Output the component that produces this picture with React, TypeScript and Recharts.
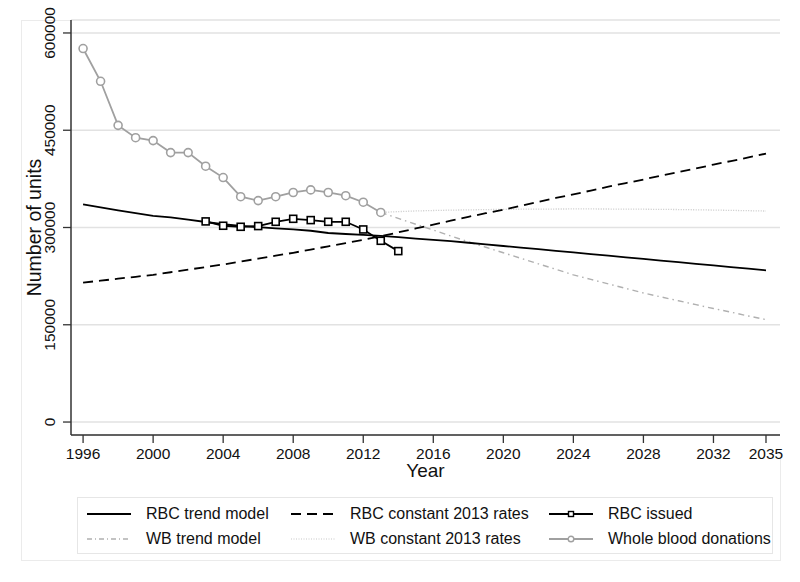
import { ComposedChart, Line, XAxis, YAxis, CartesianGrid, Legend } from "recharts";

// years on the x axis
const years = [
  1996, 1997, 1998, 1999, 2000, 2001, 2002, 2003, 2004, 2005, 2006, 2007, 2008, 2009,
  2010, 2011, 2012, 2013, 2014, 2015, 2016, 2017, 2018, 2019, 2020, 2021, 2022, 2023,
  2024, 2025, 2026, 2027, 2028, 2029, 2030, 2031, 2032, 2033, 2034, 2035,
];

// 1996 - 2035
const rbcTrend = [
  335600, 331000, 326500, 322000, 318000, 315500, 312000, 308500, 305000, 302500,
  300500, 298500, 297000, 295000, 291500, 290000, 288500, 287000, 285000, 283000,
  281000, 279000, 276500, 274000, 271500, 269000, 266500, 264000, 261500, 259000,
  256500, 254000, 251500, 249000, 246500, 244000, 241500, 239000, 236500, 234000,
];

// 1996 - 2035
const rbcConstant = [
  215000, 218000, 221000, 224000, 227000, 231000, 235000, 239000, 243000, 247500,
  252000, 256500, 261000, 266000, 271000, 276000, 281000, 286500, 292500, 298500,
  304500, 310500, 316500, 322000, 327500, 333500, 339500, 345500, 351000, 357000,
  363000, 368500, 374000, 380000, 385500, 391000, 397000, 402500, 408000, 414000,
];

// 2003 - 2014
const rbcIssuedFrom = 2003;
const rbcIssued = [
  309400, 302700, 301100, 302200, 308800, 313400, 311400, 308800, 308800, 297000,
  279500, 263600,
];

// 2013 - 2035
const wbFrom = 2013;
const wbTrend = [
  323200, 314000, 305000, 296000, 287000, 278000, 269500, 261000, 252500, 244000,
  235500, 227000, 220000, 213000, 206000, 199000, 193000, 187000, 181000, 175000,
  169500, 163500, 158000,
];
const wbConstant = [
  323200, 324500, 325500, 326200, 326800, 327200, 327600, 328000, 328200, 328400,
  328500, 328600, 328600, 328500, 328400, 328200, 328000, 327700, 327300, 326900,
  326400, 325900, 325400,
];

// 1996 - 2013
const wholeBlood = [
  576000, 525500, 457500, 438500, 434000, 415500, 415500, 394500, 377000, 347500,
  341500, 347500, 354000, 358000, 354000, 349000, 339000, 323200,
];

const xTicks = [1996, 2000, 2004, 2008, 2012, 2016, 2020, 2024, 2028, 2032, 2035];
const yTicks = [0, 150000, 300000, 450000, 600000];

const FONT = '"Liberation Sans", Arial, Helvetica, sans-serif';
const AXIS = "#333";
const GRAY = "#a0a0a0";
const FRAME = "#ebebeb";

const pick = (arr: number[], from: number, yr: number) => {
  const v = arr[yr - from];
  return v === undefined ? null : v;
};

const data = years.map((year) => ({
  year,
  rbcTrend: pick(rbcTrend, 1996, year),
  rbcConstant: pick(rbcConstant, 1996, year),
  rbcIssued: pick(rbcIssued, rbcIssuedFrom, year),
  wbTrend: pick(wbTrend, wbFrom, year),
  wbConstant: pick(wbConstant, wbFrom, year),
  wholeBlood: pick(wholeBlood, 1996, year),
}));

const legendItems = [
  { key: "rbcTrend", name: "RBC trend model" },
  { key: "rbcConstant", name: "RBC constant 2013 rates" },
  { key: "rbcIssued", name: "RBC issued" },
  { key: "wbTrend", name: "WB trend model" },
  { key: "wbConstant", name: "WB constant 2013 rates" },
  { key: "wholeBlood", name: "Whole blood donations" },
];

function SquareDot(props: any) {
  const { cx, cy, index } = props;
  if (cx == null || cy == null) return <g key={`sq-${index}`} />;
  return (
    <rect
      key={`sq-${index}`}
      x={cx - 3.5}
      y={cy - 3.5}
      width={7}
      height={7}
      fill="#fff"
      stroke="#000"
      strokeWidth={1.6}
    />
  );
}

function CircleDot(props: any) {
  const { cx, cy, index } = props;
  if (cx == null || cy == null) return <g key={`ci-${index}`} />;
  return (
    <circle key={`ci-${index}`} cx={cx} cy={cy} r={4} fill="#fff" stroke={GRAY} strokeWidth={1.6} />
  );
}

function XTick(props: any) {
  const { x, y, payload } = props;
  return (
    <text x={x} y={y} dy={14} textAnchor="middle" fontSize={15.5} fontFamily={FONT} fill="#111">
      {payload.value}
    </text>
  );
}

function YTick(props: any) {
  const { x, y, payload } = props;
  const bx = x - 6;
  return (
    <text
      x={bx}
      y={y}
      transform={`rotate(-90, ${bx}, ${y})`}
      textAnchor="middle"
      fontSize={15.5}
      fontFamily={FONT}
      fill="#111"
    >
      {payload.value}
    </text>
  );
}

function LegendSymbol({ kind }: { kind: string }) {
  const line = (stroke: string, dash?: string, w = 2) => (
    <line x1={0} y1={6} x2={44} y2={6} stroke={stroke} strokeWidth={w} strokeDasharray={dash} />
  );
  return (
    <svg width={44} height={12} style={{ display: "block" }}>
      {kind === "rbcTrend" && line("#000")}
      {kind === "rbcConstant" && line("#000", "10 6")}
      {kind === "rbcIssued" && (
        <>
          {line("#000")}
          <rect x={19.5} y={3.5} width={5} height={5} fill="#fff" stroke="#000" strokeWidth={1.4} />
        </>
      )}
      {kind === "wbTrend" && line("#b0b0b0", "5 3 1 3", 1.4)}
      {kind === "wbConstant" && line("#c8c8c8", "1 1.5", 1.2)}
      {kind === "wholeBlood" && (
        <>
          {line(GRAY)}
          <circle cx={22} cy={6} r={2.8} fill="#fff" stroke={GRAY} strokeWidth={1.4} />
        </>
      )}
    </svg>
  );
}

const colLeft = [9, 213, 471];
const rowMid = [16, 41];

function LegendBox() {
  return (
    <div
      style={{
        position: "relative",
        width: 696,
        height: 57,
        border: "1px solid #e6e6e6",
        boxSizing: "border-box",
        background: "#fff",
        fontFamily: FONT,
        fontSize: 16,
        color: "#111",
      }}
    >
      {legendItems.map((item, i) => {
        const col = i % 3;
        const row = Math.floor(i / 3);
        return (
          <div
            key={item.key}
            style={{
              position: "absolute",
              left: colLeft[col],
              top: rowMid[row] - 10,
              height: 20,
              display: "flex",
              alignItems: "center",
              whiteSpace: "nowrap",
            }}
          >
            <LegendSymbol kind={item.key} />
            <span style={{ marginLeft: 15 }}>{item.name}</span>
          </div>
        );
      })}
    </div>
  );
}

export default function App() {
  return (
    <div style={{ position: "absolute", left: 0, top: 0, width: 800, height: 582, background: "#fff" }}>
      {/* faint graph region frame (left, bottom, short top piece, lower right piece) */}
      <div
        style={{
          position: "absolute",
          left: 21,
          top: 20,
          width: 760,
          height: 541,
          borderLeft: `1px solid ${FRAME}`,
          borderBottom: `1px solid ${FRAME}`,
          boxSizing: "border-box",
        }}
      />
      <div style={{ position: "absolute", left: 21, top: 20, width: 50, height: 1, background: FRAME }} />
      <div style={{ position: "absolute", left: 780, top: 458, width: 1, height: 103, background: FRAME }} />
      <ComposedChart
        width={800}
        height={582}
        data={data}
        margin={{ top: 20, right: 20, left: 21, bottom: 97 }}
        style={{ position: "absolute", left: 0, top: 0 }}
      >
        <CartesianGrid vertical={false} stroke="#e2e2e2" strokeWidth={1.5} />
        <XAxis
          dataKey="year"
          type="number"
          domain={[1995.31, 2035.8]}
          ticks={xTicks}
          allowDataOverflow
          height={50}
          tickSize={8}
          axisLine={{ stroke: AXIS, strokeWidth: 1.5 }}
          tickLine={{ stroke: AXIS, strokeWidth: 1.3 }}
          tick={<XTick />}
          interval={0}
          label={{
            content: (p: any) => {
              const vb = p.viewBox || { x: 71, y: 435, width: 709 };
              return (
                <text
                  x={vb.x + vb.width / 2}
                  y={vb.y + 42}
                  textAnchor="middle"
                  fontSize={19}
                  fontFamily={FONT}
                  fill="#111"
                >
                  Year
                </text>
              );
            },
          }}
        />
        <YAxis
          type="number"
          domain={[-20000, 620000]}
          ticks={yTicks}
          allowDataOverflow
          width={50}
          tickSize={8}
          axisLine={{ stroke: AXIS, strokeWidth: 1.5 }}
          tickLine={{ stroke: AXIS, strokeWidth: 1.3 }}
          tick={<YTick />}
          interval={0}
          label={{
            content: (p: any) => {
              const vb = p.viewBox || { x: 21, y: 20, width: 50, height: 415 };
              const lx = vb.x + 20;
              const ly = vb.y + vb.height / 2;
              return (
                <text
                  x={lx}
                  y={ly}
                  transform={`rotate(-90, ${lx}, ${ly})`}
                  textAnchor="middle"
                  fontSize={19.5}
                  fontFamily={FONT}
                  fill="#111"
                >
                  Number of units
                </text>
              );
            },
          }}
        />
        <Legend
          verticalAlign="middle"
          align="center"
          content={() => <LegendBox />}
          wrapperStyle={{ position: "absolute", left: 77, top: 497, width: 696, height: 57 }}
        />
        <Line
          dataKey="wbConstant"
          name="WB constant 2013 rates"
          type="linear"
          stroke="#c8c8c8"
          strokeWidth={1.3}
          strokeDasharray="1 1.5"
          dot={false}
          activeDot={false}
          isAnimationActive={false}
        />
        <Line
          dataKey="wbTrend"
          name="WB trend model"
          type="linear"
          stroke="#b0b0b0"
          strokeWidth={1.4}
          strokeDasharray="6 4 1.5 4"
          dot={false}
          activeDot={false}
          isAnimationActive={false}
        />
        <Line
          dataKey="rbcConstant"
          name="RBC constant 2013 rates"
          type="linear"
          stroke="#000"
          strokeWidth={1.8}
          strokeDasharray="10 6"
          dot={false}
          activeDot={false}
          isAnimationActive={false}
        />
        <Line
          dataKey="rbcTrend"
          name="RBC trend model"
          type="linear"
          stroke="#000"
          strokeWidth={1.8}
          dot={false}
          activeDot={false}
          isAnimationActive={false}
        />
        <Line
          dataKey="wholeBlood"
          name="Whole blood donations"
          type="linear"
          stroke={GRAY}
          strokeWidth={1.8}
          dot={<CircleDot />}
          activeDot={false}
          isAnimationActive={false}
        />
        <Line
          dataKey="rbcIssued"
          name="RBC issued"
          type="linear"
          stroke="#000"
          strokeWidth={1.8}
          dot={<SquareDot />}
          activeDot={false}
          isAnimationActive={false}
        />
      </ComposedChart>
    </div>
  );
}
